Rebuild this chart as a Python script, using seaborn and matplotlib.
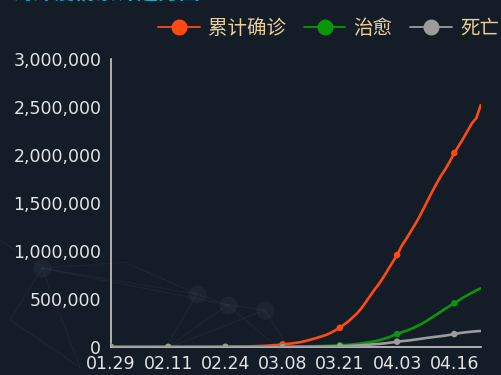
import datetime as dt

import matplotlib
matplotlib.use("Agg")
import matplotlib.pyplot as plt
from matplotlib.lines import Line2D
from matplotlib.ticker import FuncFormatter
import pandas as pd
import seaborn as sns

# ---- data: daily cumulative counts, 01.29 - 04.22 ----
start_date = dt.date(2020, 1, 29)
n_days = 85

confirmed = [
    80, 100, 120, 140, 150, 160, 180, 200, 230, 260, 290, 310, 330,
    360, 400, 450, 500, 540, 600, 680, 760, 860, 1000, 1150, 1350, 1600,
    2000, 2400, 2900, 3600, 4600, 5900, 7100, 8700, 10500, 12600, 15100, 18800, 22500,
    28000, 32000, 37000, 43000, 50000, 60000, 72000, 85000, 98000, 112000, 128000, 150000, 175000,
    200000, 235000, 270000, 312000, 355000, 410000, 475000, 540000, 605000, 665000, 735000, 810000, 885000,
    958000, 1050000, 1120000, 1195000, 1270000, 1350000, 1440000, 1530000, 1620000, 1705000, 1785000, 1855000, 1935000,
    2020000, 2095000, 2170000, 2250000, 2330000, 2385000, 2520000,
]
recovered = [
    3, 3, 5, 8, 10, 12, 15, 20, 25, 30, 40, 50, 60,
    70, 80, 100, 110, 120, 130, 150, 180, 200, 220, 240, 270, 300,
    330, 380, 420, 500, 600, 700, 800, 1000, 1200, 1500, 1800, 2200, 2700,
    3300, 3800, 4200, 4800, 5500, 6200, 7000, 8000, 9000, 10000, 11500, 13000, 15000,
    18000, 20000, 23000, 27000, 32000, 38000, 45000, 52000, 60000, 72000, 85000, 100000, 118000,
    135000, 152000, 168000, 185000, 205000, 228000, 252000, 280000, 310000, 340000, 370000, 400000, 428000,
    455000, 485000, 515000, 540000, 565000, 590000, 611000,
]
deaths = [
    0, 0, 0, 1, 1, 1, 2, 2, 2, 2, 2, 2, 2,
    2, 3, 3, 4, 4, 4, 5, 5, 6, 8, 10, 12, 15,
    20, 25, 35, 45, 60, 75, 90, 110, 140, 170, 210, 260, 330,
    400, 480, 620, 780, 1000, 1250, 1500, 2000, 2500, 3200, 3900, 4800, 6000,
    7500, 9000, 10800, 12800, 15500, 18500, 21800, 25500, 29000, 32500, 37000, 42500, 48500,
    55000, 60500, 65000, 70000, 76500, 83000, 89500, 96000, 102000, 107500, 113000, 119000, 127000,
    135000, 143000, 150000, 155000, 160000, 164000, 167000,
]

series_names = ["累计确诊", "治愈", "死亡"]
series_colors = ["#ff4a12", "#0a960a", "#9c9c9c"]
y_ticks = [0, 500000, 1000000, 1500000, 2000000, 2500000, 3000000]
label_step = 13

dates = [start_date + dt.timedelta(days=i) for i in range(n_days)]
date_labels = [d.strftime("%m.%d") for d in dates]

frames = []
for name, values in zip(series_names, [confirmed, recovered, deaths]):
    frames.append(pd.DataFrame({"day": range(n_days), "value": values, "series": name}))
df = pd.concat(frames, ignore_index=True)
marks = df[df["day"] % label_step == 0]

# ---- figure ----
bg = "#141c27"
text_col = "#e4e4e4"
axis_col = "#c8c8c8"

sns.set_theme(style="dark")
plt.rcParams["font.family"] = ["Noto Sans CJK SC", "DejaVu Sans"]

fig = plt.figure(figsize=(5.01, 3.75), dpi=100, facecolor=bg)
ax = fig.add_axes([0.2216, 0.0747, 0.7379, 0.768])
ax.set_facecolor("none")

# faint background network decoration
net_nodes = [(0.084, 0.285), (0.393, 0.216), (0.455, 0.187), (0.529, 0.173),
             (0.02, 0.147), (0.0, 0.36), (0.33, 0.07), (0.6, 0.02), (0.16, 0.02), (0.25, 0.3)]
net_edges = [(0, 1), (0, 4), (0, 5), (1, 2), (2, 3), (1, 6), (2, 7), (3, 7), (4, 8),
             (0, 2), (1, 9), (0, 9), (0, 8), (3, 6), (2, 6)]
for a, b in net_edges:
    xa, ya = net_nodes[a]
    xb, yb = net_nodes[b]
    fig.add_artist(Line2D([xa, xb], [ya, yb], transform=fig.transFigure,
                          color="#6c7a86", alpha=0.10, lw=0.8, zorder=0))
for (nx, ny) in net_nodes[:4]:
    fig.add_artist(Line2D([nx], [ny], transform=fig.transFigure, marker="o", ms=13,
                          color="#5a6875", alpha=0.12, mew=0, zorder=0))

sns.lineplot(data=df, x="day", y="value", hue="series", palette=series_colors,
             hue_order=series_names, linewidth=1.9, ax=ax, legend=False, zorder=3)
sns.scatterplot(data=marks, x="day", y="value", hue="series", palette=series_colors,
                hue_order=series_names, s=22, edgecolor="none", ax=ax, legend=False, zorder=4)

ax.set_xlim(0, n_days - 1)
ax.set_ylim(0, 3000000)
ax.set_xticks(list(range(0, n_days, label_step)))
ax.set_xticklabels(date_labels[::label_step])
ax.set_yticks(y_ticks)
ax.yaxis.set_major_formatter(FuncFormatter(lambda v, p: f"{int(v):,}"))
ax.set_xlabel("")
ax.set_ylabel("")
ax.grid(False)

for side in ["top", "right"]:
    ax.spines[side].set_visible(False)
for side in ["left", "bottom"]:
    ax.spines[side].set_visible(True)
    ax.spines[side].set_color(axis_col)
    ax.spines[side].set_linewidth(1.2)

ax.tick_params(axis="both", colors=axis_col, labelcolor=text_col, labelsize=12.5,
               length=5, width=1.2, direction="out", pad=2)
ax.tick_params(axis="x", pad=1)
for lbl in ax.get_xticklabels() + ax.get_yticklabels():
    lbl.set_family(["DejaVu Sans"])

# legend across the top
handles = [Line2D([0], [0], color=c, lw=1.3, marker="o", ms=10.5, markerfacecolor=c, markeredgecolor=c)
           for c in series_colors]
fig.legend(handles, series_names, loc="center left", bbox_to_anchor=(0.2804, 0.925),
           ncol=3, frameon=False, handlelength=2.15, handletextpad=0.4, columnspacing=0.93,
           labelcolor="#e8d29a", prop={"family": ["Noto Sans CJK SC", "DejaVu Sans"], "size": 14})

# title, mostly above the top edge
fig.text(0.024, 0.99, "海外疫情累计趋势图", color="#1aaec0", fontsize=15,
         fontweight="bold", va="bottom", ha="left")

fig.savefig("out.png", dpi=100, facecolor=bg)
